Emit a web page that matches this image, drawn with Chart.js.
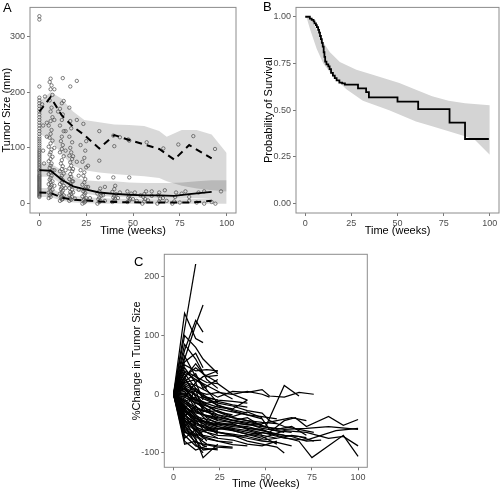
<!DOCTYPE html>
<html>
<head>
<meta charset="utf-8">
<script src="https://cdn.jsdelivr.net/npm/chart.js@4/dist/chart.umd.min.js"></script>
<style>
  body { margin: 0; background: #fff; }
  #wrap { position: relative; width: 500px; height: 491px; overflow: hidden; font-family: "Liberation Sans", Arial, sans-serif; }
  canvas { position: absolute; }
  .tag { position: absolute; font-size: 13px; line-height: 13px; color: #000; }
</style>
</head>
<body>
<div id="wrap">
  <canvas id="chartA" width="250" height="240" style="left:0;top:0"></canvas>
  <canvas id="chartB" width="250" height="240" style="left:250px;top:0"></canvas>
  <canvas id="chartC" width="250" height="251" style="left:130px;top:240px"></canvas>
  <div class="tag" style="left:3px;top:1px">A</div>
  <div class="tag" style="left:263px;top:0px">B</div>
  <div class="tag" style="left:134px;top:255px">C</div>
</div>
<script>
Chart.defaults.font.family = "'Liberation Sans', Arial, sans-serif";
Chart.defaults.animation = false;

// ---- panel A: observed tumor size + VPC lines ----
const xTicks = [0, 25, 50, 75, 100];
const yTicksA = [0, 100, 200, 300];

// observed sizes at week 0 (all at x = 0)
const obsWeek0 = [12, 14, 16, 18, 20, 22, 24, 26, 28, 30, 32, 34, 36, 38, 40, 42, 44, 46, 48, 50, 52, 55, 58, 60, 63, 66, 69, 72, 75, 78,
  81, 84, 87, 90, 93, 96, 100, 104, 108, 112, 116, 120, 125, 130, 135, 140, 145, 150, 155, 160, 165, 170, 175, 180, 185, 190, 210, 330, 336];
// observed [week, size] after baseline
const obsLater = [
  [2, 95], [2, 140], [1.5, 178], [3, 192], [2.5, 72],
  [5, 10], [6, 12], [5.5, 15], [6.5, 18], [5, 20], [6, 22], [7, 25], [5.5, 28], [6, 30], [6.5, 33], [5, 35], [6, 38], [7, 40], [5.5, 43],
  [6, 46], [6.5, 50], [5, 53], [6, 56], [7, 60], [5.5, 64], [6, 68], [6.5, 72], [5, 76], [6, 80], [7, 84], [5.5, 88], [6, 92], [6.5, 97],
  [5, 102], [6, 108], [7, 113], [5.5, 118], [6, 125], [6.5, 132], [5, 140], [6, 148], [7, 155], [6, 165], [6.5, 172], [5.5, 185], [7, 195],
  [6, 205], [6.5, 212], [5.5, 218], [6, 224], [8, 205], [4, 145], [4, 120], [8, 150], [8, 100], [8, 60], [8, 32],
  [11, 5], [12, 7], [12.5, 9], [11.5, 11], [12, 13], [13, 15], [11, 18], [12, 20], [12.5, 23], [11.5, 26], [12, 29], [13, 32], [11, 35],
  [12, 38], [12.5, 42], [11.5, 46], [12, 50], [13, 54], [11, 58], [12, 62], [12.5, 67], [11.5, 72], [12, 78], [13, 85], [11, 92], [12, 98],
  [12.5, 105], [11.5, 112], [12, 120], [13, 130], [11, 140], [12, 150], [12.5, 160], [11, 170], [12, 180], [13, 184], [12.5, 225],
  [10, 165], [14, 130], [14, 95], [14, 60], [14, 28],
  [16, 5], [17, 7], [16.5, 9], [17.5, 12], [16, 15], [17, 18], [16.5, 21], [17.5, 25], [16, 28], [17, 32], [16.5, 36], [17.5, 40], [16, 44],
  [17, 48], [16.5, 53], [17.5, 58], [16, 63], [17, 68], [16.5, 74], [17.5, 80], [16, 86], [17, 92], [16.5, 100], [17.5, 110], [16, 120],
  [17, 135], [16.5, 148], [16, 172], [16.5, 210], [18, 85], [18, 62], [18, 40], [18, 20], [19, 9], [20, 220], [20, 150], [21, 50], [21, 25], [20, 75],
  [23, 0], [24, 2], [24.5, 4], [23.5, 6], [24, 8], [25, 10], [23, 13], [24, 16], [24.5, 19], [23.5, 22], [24, 26], [25, 30], [23, 34],
  [24, 38], [24.5, 44], [23.5, 50], [24, 56], [25, 65], [23, 75], [24, 82], [24.5, 95], [25, 112], [23.5, 143], [26, 68], [26, 30], [27, 10],
  [22, 105], [22, 60],
  [31, 0], [32, 3], [32.5, 5], [31.5, 8], [32, 11], [33, 14], [31, 18], [32, 22], [32.5, 27], [31.5, 47], [32, 77], [32, 130], [34, 15], [35, 5], [35, 30],
  [39, 3], [40, 5], [40.5, 8], [39.5, 11], [40, 14], [41, 17], [39, 21], [40, 26], [40.5, 32], [39.5, 47], [40, 103], [39.5, 122], [42, 10], [43, 119], [43, 20],
  [47, 3], [48, 5], [48.5, 8], [47.5, 11], [48, 14], [49, 18], [47, 22], [48, 47], [47.5, 115], [48, 113], [50, 8], [51, 20], [52, 5],
  [55, 0], [56, 4], [56.5, 8], [55.5, 12], [56, 17], [57, 22], [57.3, 110], [54, 15], [58, 6], [60, 14], [60, 22],
  [63, 0], [64, 4], [64.5, 9], [63.5, 15], [64, 20], [66.2, 99], [66, 10], [67, 24], [68, 5],
  [71, 0], [72, 4], [72.5, 12], [73, 20], [74.2, 106], [75, 2], [76, 18], [78, 22], [80, 5], [80, 12], [82.2, 121], [84, 2], [85, 20],
  [88, 0], [88, 22], [92, 3], [93.8, 98], [97, 22], [94, 0]
];

// percentile lines
const vpcTimes = [0, 6, 12, 18, 24, 32, 40, 48, 56, 64, 72, 80, 92];
const medianSize = [60, 59, 43, 31, 26, 20, 17.5, 16, 15, 15, 14, 17, 21];
const p95Size = [165, 191, 158, 138, 123, 99, 123, 114, 106, 98, 79, 105, 81];
const p5Size = [20, 19, 11, 7, 5.7, 4, 3, 2.5, 2, 2, 2, 2, 5];

// prediction interval ribbons
const bandTimes = [0, 6, 12, 18, 24, 32, 40, 48, 56, 64, 68, 76, 84, 92, 100];
const hiBandTop = [183, 200, 188, 165, 150, 146, 142, 141, 139, 130, 120, 132, 132, 124, 91];
const hiBandBot = [125, 115, 88, 68, 60, 56, 53, 51, 49, 46, 40, 32, 27, 24, 22];
const midBandTop = [72, 72, 60, 48, 42, 40, 40, 38, 37, 37, 37, 38, 40, 42, 42];
const midBandBot = [48, 48, 35, 25, 18, 14, 12, 11, 10, 9, 9, 9, 10, 10, 10];
const loBandTop = [28, 28, 18, 14, 12, 10, 9, 9, 8, 8, 8, 8, 9, 10, 10];
const loBandBot = [12, 12, 5, 2, 1, 0, 0, 0, 0, 0, 0, 0, 0, 0, 0];

// ---- panel B: Kaplan-Meier ----
const yTicksB = [0, 0.25, 0.5, 0.75, 1];
const yTickLabelsB = ['0.00', '0.25', '0.50', '0.75', '1.00'];
const kmTimes = [0, 2.5, 3.5, 4.5, 5, 5.8, 6.3, 7, 7.5, 8, 8.5, 9, 9.5, 10, 10.4, 10.8, 11.5, 12.5, 13.2, 14, 15, 16, 17, 18.5, 20, 21.5,
  28.6, 33, 34.5, 50, 61.2, 78.2, 86.6, 99.5];
const kmSurv = [1, 0.99, 0.983, 0.975, 0.965, 0.955, 0.945, 0.93, 0.915, 0.897, 0.88, 0.86, 0.84, 0.81, 0.785, 0.76, 0.745, 0.735, 0.72,
  0.70, 0.685, 0.672, 0.66, 0.648, 0.643, 0.637, 0.617, 0.597, 0.569, 0.546, 0.506, 0.434, 0.346, 0.346];
const ciUpTimes = [0, 3, 6.25, 9.8, 13.4, 18.75, 27.7, 36.6, 51, 60, 68.75, 77.7, 86.6, 100];
const ciUp = [1, 0.99, 0.931, 0.862, 0.81, 0.758, 0.716, 0.69, 0.645, 0.61, 0.575, 0.55, 0.537, 0.527];
const ciLoTimes = [0, 0.9, 2.7, 6.25, 9.8, 15.2, 22.3, 31.25, 45.5, 60, 68.75, 77.7, 86.6, 92, 100];
const ciLo = [1, 0.99, 0.93, 0.828, 0.75, 0.68, 0.612, 0.551, 0.5, 0.44, 0.414, 0.388, 0.36, 0.34, 0.262];

// ---- panel C: % change per patient [week, pct] ----
const yTicksC = [-100, 0, 100, 200];
const pctLines = [
  [[0, 0], [12, 222]],
  [[0, 0], [6, 138], [12, 95], [16, 88]],
  [[0, 0], [6, 75], [12, 126], [16, 106]],
  [[0, 0], [6, 60], [12, 118], [16, 152]],
  [[0, 0], [6, 100], [12, 80], [16, 60], [24, 35]],
  [[0, 0], [6, 85], [12, 60], [18, 25], [24, 10]],
  [[0, 0], [6, 50], [12, 40], [18, 42], [24, 40]],
  [[0, 0], [6, 40], [12, 30], [18, 20], [24, 18], [32, 0], [40, -10]],
  [[0, 0], [6, 35], [12, 10], [18, -5], [24, -20]],
  [[0, 0], [6, 30], [12, 45], [18, 30], [24, 32]],
  [[0, 0], [6, 20], [12, 15], [18, 5], [24, -5], [32, 5], [40, 3], [48, 8], [52, -3], [60, -5], [68, 3], [76, 0]],
  [[0, 0], [6, 25], [12, 5], [18, 0], [24, 3], [32, 0], [40, 5], [48, 0], [52, -5]],
  [[0, 0], [6, 10], [12, -10], [18, -20], [24, -30], [32, -40], [40, -45], [50, -55], [60, 15], [68, -3]],
  [[0, 0], [6, 0], [12, -15], [18, -25], [24, -35], [32, -45], [40, -40], [48, -55], [56, -60], [64, -55], [72, -70]],
  [[0, 0], [6, -20], [12, -35], [18, -50], [24, -55], [32, -60], [40, -65], [48, -70], [56, -75]],
  [[0, 0], [6, -40], [12, -55], [16, -70], [24, -75]],
  [[0, 0], [6, -60], [12, -75], [16, -108], [24, -85]],
  [[0, 0], [6, -85], [12, -80], [18, -90]],
  [[0, 0], [6, -50], [12, -70], [18, -60], [24, -65], [32, -70], [40, -80], [48, -85], [56, -90], [60, -100]],
  [[0, 0], [6, -30], [12, -45], [24, -50], [40, -55], [52, -65], [60, -45], [66, -40], [72, -55], [84, -38], [92, -53], [100, -43]],
  [[0, 0], [6, -35], [12, -50], [24, -60], [32, -55], [48, -60], [56, -70], [68, -80], [75, -108], [92, -70], [100, -106]],
  [[0, 0], [6, -25], [12, -40], [24, -55], [36, -65], [48, -75], [60, -62], [72, -65], [84, -75], [92, -72], [100, -88]],
  [[0, 0], [6, -15], [12, -30], [24, -45], [36, -50], [48, -55], [60, -60], [72, -58], [84, -55], [100, -60]],
  [[0, 0], [6, -45], [12, -60], [24, -70], [36, -72], [48, -65], [60, -75], [72, -78], [88, -62], [100, -58]],
  [[0, 0], [6, 45], [12, 20], [16, -10]],
  [[0, 0], [6, 38], [12, 25], [16, 15], [24, -15]],
  [[0, 0], [6, 30], [12, -5], [16, -25]],
  [[0, 0], [6, 22], [12, 35], [16, 10], [24, 25]],
  [[0, 0], [6, 15], [12, -20], [16, -35], [24, -40]],
  [[0, 0], [6, 12], [12, 0], [16, -15], [24, -30], [32, -35]],
  [[0, 0], [6, 5], [12, -25], [18, -45], [24, -55]],
  [[0, 0], [6, -5], [12, 20], [16, 30], [24, 40]],
  [[0, 0], [6, -10], [12, -35], [16, -55], [24, -62]],
  [[0, 0], [6, -12], [12, -5], [16, -20], [24, -45]],
  [[0, 0], [6, -18], [12, -45], [16, -60]],
  [[0, 0], [6, -22], [12, -55], [18, -80]],
  [[0, 0], [6, -28], [12, 10], [16, -5], [24, -10]],
  [[0, 0], [6, -33], [12, -65], [16, -88]],
  [[0, 0], [6, -38], [12, -20], [18, -40], [24, -50], [32, -55]],
  [[0, 0], [6, -42], [12, -78], [16, -95], [24, -92]],
  [[0, 0], [6, -48], [12, -62], [16, -75], [24, -80], [32, -82]],
  [[0, 0], [6, -52], [12, -85], [16, -100]],
  [[0, 0], [6, -55], [12, -40], [16, -50], [24, -68]],
  [[0, 0], [6, -58], [12, -72], [18, -85], [24, -88], [32, -90]],
  [[0, 0], [6, -65], [12, -70], [16, -78]],
  [[0, 0], [6, -70], [12, -88], [16, -92], [24, -95]],
  [[0, 0], [6, -75], [12, -60], [16, -72]],
  [[0, 0], [6, -80], [12, -95], [18, -88]],
  [[0, 0], [6, 28], [12, 52], [16, 35], [24, 20]],
  [[0, 0], [6, 55], [12, 70], [16, 45]],
  [[0, 0], [6, 65], [12, 30], [18, 10]],
  [[0, 0], [6, 18], [12, 8], [16, -30], [24, -20], [32, -25], [40, -10]],
  [[0, 0], [6, 8], [12, -12], [18, -30], [24, -28], [32, -38], [40, -30], [48, -40]],
  [[0, 0], [6, 2], [12, -8], [18, -15], [24, -12], [32, -18], [40, -22]],
  [[0, 0], [6, -25], [12, -48], [18, -60], [24, -58], [32, -62], [40, -68], [48, -72], [56, -85]],
  [[0, 0], [6, -8], [12, -28], [18, -38], [24, -42], [32, -48], [40, -52], [48, -50], [56, -45], [64, -40], [72, -45]],
  [[0, 0], [6, -35], [12, -52], [24, -64], [32, -70], [40, -75], [48, -80], [56, -82], [64, -88]],
  [[0, 0], [6, -20], [12, -38], [24, -48], [32, -52], [40, -58], [48, -62], [60, -70], [68, -72], [76, -80]],
  [[0, 0], [6, -45], [12, -55], [24, -75], [32, -78], [40, -85], [48, -88], [56, -80]],
  [[0, 0], [6, -15], [12, -25], [24, -35], [32, -40], [40, -45], [48, -48], [56, -50]],
  [[0, 0], [6, -5], [12, -15], [24, -25], [32, -30], [40, -35], [48, -42], [52, -60], [60, -65]],
  [[0, 0], [6, -30], [12, -42], [24, -52], [32, -58], [40, -62], [48, -68]],
  [[0, 0], [6, -12], [12, -22], [24, -38], [32, -45], [40, -50], [48, -58], [56, -62], [64, -65]],
  [[0, 0], [6, -40], [12, -58], [24, -65], [32, -68], [40, -72], [48, -78], [56, -75], [64, -70], [72, -74]],
  [[0, 0], [6, -22], [12, -32], [24, -40], [32, -44], [40, -48], [48, -52]],
  [[0, 0], [6, -55], [12, -68], [24, -80], [32, -86], [40, -88]],
  [[0, 0], [6, 10], [12, -2], [24, -18], [32, -28], [40, -35], [48, -38], [56, -42]],
  [[0, 0], [6, -2], [12, -10], [24, -22], [32, -26], [40, -32]],
  [[0, 0], [6, -62], [12, -82], [24, -90], [32, -92]],
  [[0, 0], [6, 15], [12, 5], [18, -8], [24, -15], [32, -20], [40, -28], [48, -32], [52, -45], [60, -55], [68, -60], [76, -65]],
  [[0, 0], [6, -28], [12, -40], [18, -50], [24, -52], [32, -50], [40, -60], [48, -66], [56, -68], [64, -72], [72, -80], [80, -78]],
  [[0, 0], [6, 0], [12, 5], [18, -5], [24, -10], [32, -12], [40, -15]],
  [[0, 0], [6, 20], [12, 25], [18, 15], [24, 5], [32, -8]],
  [[0, 0], [6, -48], [12, -45], [18, -52], [24, -58], [32, -60]]
];

// helpers
const xy = (xs, ys) => xs.map((x, i) => ({ x: x, y: ys[i] }));

// grey frame round the panel, like ggplot panel.border
const framePlugin = {
  id: 'frame',
  afterDraw(chart) {
    const a = chart.chartArea;
    const ctx = chart.ctx;
    ctx.save();
    ctx.strokeStyle = '#8c8c8c';
    ctx.lineWidth = 1;
    ctx.strokeRect(a.left, a.top, a.right - a.left, a.bottom - a.top);
    ctx.restore();
  }
};

function makeAxis(opts) {
  return {
    type: 'linear',
    min: opts.min,
    max: opts.max,
    afterBuildTicks: (scale) => { scale.ticks = opts.ticks.map(v => ({ value: v })); },
    afterFit: (scale) => { if (opts.isY) scale.width = opts.size; else scale.height = opts.size; },
    grid: { display: true, drawOnChartArea: false, drawTicks: true, tickLength: 3, color: '#555', lineWidth: 0.8 },
    border: { display: false },
    ticks: {
      font: { size: 9 },
      color: '#4d4d4d',
      padding: 2,
      maxRotation: 0,
      autoSkip: false,
      callback: (v, i) => (opts.labels ? opts.labels[i] : String(v))
    },
    title: {
      display: true,
      text: opts.title,
      color: '#000',
      font: { size: 11 },
      padding: opts.titlePad
    }
  };
}

// chart A
const ribbon = 'rgba(0,0,0,0.15)';
const bandDs = (ys, fill) => ({
  data: xy(bandTimes, ys), borderWidth: 0, pointRadius: 0, fill: fill,
  backgroundColor: ribbon, order: 5
});
new Chart(document.getElementById('chartA'), {
  type: 'line',
  data: {
    datasets: [
      bandDs(hiBandTop, '+1'), bandDs(hiBandBot, false),
      bandDs(midBandTop, '+1'), bandDs(midBandBot, false),
      bandDs(loBandTop, '+1'), bandDs(loBandBot, false),
      {
        data: obsWeek0.map(v => ({ x: 0, y: v })).concat(obsLater.map(p => ({ x: p[0], y: p[1] }))),
        showLine: false, pointRadius: 1.7, pointBorderWidth: 0.7,
        pointBorderColor: '#4a4a4a', pointBackgroundColor: 'rgba(0,0,0,0)', order: 3
      },
      { data: xy(vpcTimes, p95Size), borderColor: '#000', borderWidth: 2, borderDash: [7, 5], pointRadius: 0, fill: false, order: 1 },
      { data: xy(vpcTimes, medianSize), borderColor: '#000', borderWidth: 1.8, pointRadius: 0, fill: false, order: 1 },
      { data: xy(vpcTimes, p5Size), borderColor: '#000', borderWidth: 2, borderDash: [7, 5], pointRadius: 0, fill: false, order: 1 }
    ]
  },
  options: {
    responsive: false,
    layout: { padding: { left: 0, right: 14, top: 0.5, bottom: 0 } },
    plugins: { legend: { display: false }, tooltip: { enabled: false } },
    scales: {
      x: makeAxis({ min: -5, max: 105, ticks: xTicks, title: 'Time (weeks)', size: 27, isY: false, titlePad: { top: 0, bottom: 2.4 } }),
      y: makeAxis({ min: -16.75, max: 351.75, ticks: yTicksA, title: 'Tumor Size (mm)', size: 30, isY: true, titlePad: { top: 0, bottom: 0 } })
    }
  },
  plugins: [framePlugin]
});

// chart B
new Chart(document.getElementById('chartB'), {
  type: 'line',
  data: {
    datasets: [
      { data: xy(ciUpTimes, ciUp), borderWidth: 0, pointRadius: 0, fill: { target: 1 }, backgroundColor: '#d4d4d4', order: 5 },
      { data: xy(ciLoTimes, ciLo), borderWidth: 0, pointRadius: 0, fill: false, order: 5 },
      { data: xy(kmTimes, kmSurv), stepped: true, borderColor: '#000', borderWidth: 1.8, pointRadius: 0, fill: false, order: 1 }
    ]
  },
  options: {
    responsive: false,
    layout: { padding: { left: 0, right: 1, top: 0.5, bottom: 0 } },
    plugins: { legend: { display: false }, tooltip: { enabled: false } },
    scales: {
      x: makeAxis({ min: -5, max: 105, ticks: xTicks, title: 'Time (weeks)', size: 27, isY: false, titlePad: { top: 0, bottom: 2.4 } }),
      y: makeAxis({ min: -0.05, max: 1.05, ticks: yTicksB, labels: yTickLabelsB, title: 'Probability of Survival', size: 46, isY: true, titlePad: { top: 12, bottom: 0 } })
    }
  },
  plugins: [framePlugin]
});

// chart C
new Chart(document.getElementById('chartC'), {
  type: 'line',
  data: {
    datasets: pctLines.map(l => ({
      data: l.map(p => ({ x: p[0], y: p[1] })),
      borderColor: '#000', borderWidth: 1.25, pointRadius: 0, fill: false
    }))
  },
  options: {
    responsive: false,
    layout: { padding: { left: 0, right: 12.7, top: 14.3, bottom: 0 } },
    plugins: { legend: { display: false }, tooltip: { enabled: false } },
    scales: {
      x: makeAxis({ min: -5, max: 105, ticks: xTicks, title: 'Time (Weeks)', size: 23.7, isY: false, titlePad: { top: 0, bottom: 0 } }),
      y: makeAxis({ min: -124.5, max: 238.5, ticks: yTicksC, title: '%Change in Tumor Size', size: 34.3, isY: true, titlePad: { top: 0.5, bottom: 0 } })
    }
  },
  plugins: [framePlugin]
});
</script>
</body>
</html>
